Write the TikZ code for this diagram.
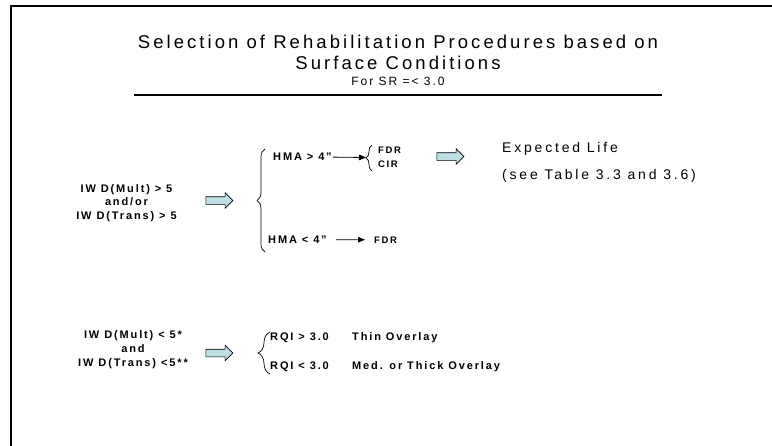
\documentclass[tikz,border=0pt]{standalone}
\usepackage{fontspec}
\setmainfont{Liberation Sans}
\newfontfamily\titlefont[LetterSpace=16.5]{Liberation Sans}
\newfontfamily\bodyfont[LetterSpace=20]{Liberation Sans}
\newfontfamily\condfont[LetterSpace=17]{Liberation Sans}
\usetikzlibrary{arrows.meta, positioning, decorations.pathreplacing, shapes.arrows}
\definecolor{arrowcyan}{HTML}{BCE0E4}

\begin{document}
\begin{tikzpicture}[x=1pt, y=-1pt,
    heading/.style={font=\titlefont\fontsize{18.5}{22}\selectfont, inner sep=0pt, anchor=base},
    subheading/.style={font=\titlefont\fontsize{12}{14}\selectfont, inner sep=0pt, anchor=base},
    cond/.style={font=\condfont\bfseries\fontsize{11}{13.7}\selectfont, align=center, inner sep=0pt},
    choice/.style={font=\condfont\bfseries\fontsize{11}{13}\selectfont, inner sep=1pt, anchor=base west},
    method/.style={font=\condfont\bfseries\fontsize{9.5}{12}\selectfont, inner sep=1pt, anchor=base west},
    note/.style={font=\bodyfont\fontsize{14}{17}\selectfont, inner sep=0pt, anchor=base west},
    bigarrow/.style={single arrow, draw=black, fill=arrowcyan, line width=0.6pt, minimum height=27pt, minimum width=0pt, inner xsep=0pt, inner ysep=3.5pt, single arrow head extend=4pt},
    arrow/.style={-{Triangle[length=7pt,width=5.5pt]}, line width=0.8pt},
    curly/.style={decorate, decoration={brace, amplitude=#1}, line width=0.7pt}
]
\useasboundingbox (0,0) rectangle (772,445);

% frame and heading
\draw[line width=2pt] (11,446) -- (11,6) -- (773,6);
\node[heading] (title) at (398,48) {Selection of Rehabilitation Procedures based on};
\node[heading] (titleb) at (398,69) {Surface Conditions};
\node[subheading] (subtitle) at (398,85) {For SR =< 3.0};
\draw[line width=2pt] (134,95) -- (662,95);

% upper case
\node[cond] (multA) at (126.5,203) {IW D(Mult) > 5\\and/or\\IW D(Trans) > 5};
\node[bigarrow] (pushA) at (217.5,200.5) {};
\draw[curly=8pt] (265,252) -- (265,149);

\node[choice] (hmaA) at (272,160.5) {HMA > 4”};
\coordinate (splitA) at (366,157.5);
\draw[arrow] (hmaA) -- (splitA);
\draw[curly=6pt] (372,171) -- (372,145);
\node[method] (fdrA) at (377,153) {FDR};
\node[method] (cirA) at (377,167) {CIR};

\node[bigarrow] (pushB) at (448.5,156.5) {};
\node[note] (life) at (502,152) {Expected Life};
\node[note] (table) at (502,179) {(see Table 3.3 and 3.6)};

\node[choice] (hmaB) at (267,243.5) {HMA < 4”};
\node[method] (fdrB) at (373,243) {FDR};
\draw[arrow, shorten <=8pt, shorten >=8pt] (hmaB) -- (fdrB);

% lower case
\node[cond] (multB) at (133,349.5) {IW D(Mult) < 5*\\and\\IW D(Trans) <5**};
\node[bigarrow] (pushC) at (217.5,353) {};
\draw[curly=12pt] (270,374) -- (270,332);

\node[choice] (rqiA) at (269,340.5) {RQI > 3.0};
\node[choice] (thin) at (351,340.5) {Thin Overlay};
\node[choice] (rqiB) at (269,369.5) {RQI < 3.0};
\node[choice] (thick) at (351,369.5) {Med. or Thick Overlay};

\end{tikzpicture}
\end{document}
